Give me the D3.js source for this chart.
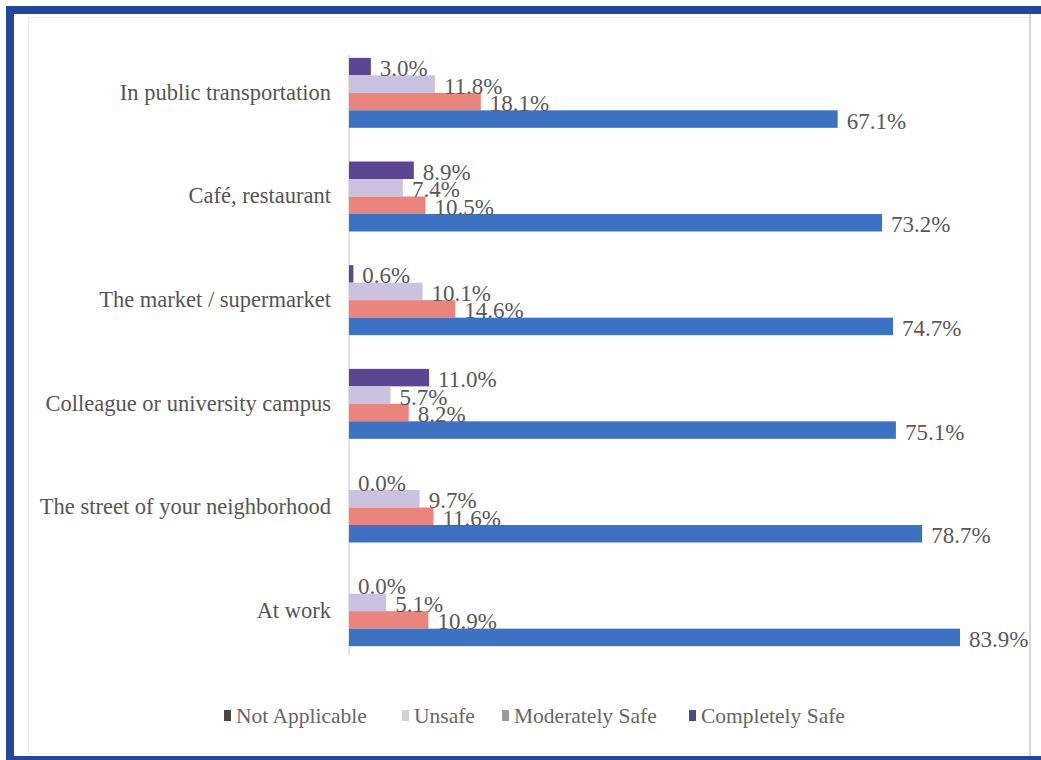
<!DOCTYPE html>
<html>
<head>
<meta charset="utf-8">
<script src="https://cdn.jsdelivr.net/npm/d3@7"></script>
<style>
  html, body { margin: 0; padding: 0; background: #ffffff; }
  svg { display: block; }
  text { font-family: "Liberation Serif", "DejaVu Serif", serif; }
</style>
</head>
<body>
<svg id="chart" width="1041" height="760"></svg>
<script>
// Places asked about, top to bottom
const places = [
  "In public transportation",
  "Café, restaurant",
  "The market / supermarket",
  "Colleague or university campus",
  "The street of your neighborhood",
  "At work"
];

// Share of respondents (%) per perceived-safety answer
const notApplicable  = [3.0, 8.9, 0.6, 11.0, 0.0, 0.0];
const unsafe         = [11.8, 7.4, 10.1, 5.7, 9.7, 5.1];
const moderatelySafe = [18.1, 10.5, 14.6, 8.2, 11.6, 10.9];
const completelySafe = [67.1, 73.2, 74.7, 75.1, 78.7, 83.9];

const seriesNames = ["Not Applicable", "Unsafe", "Moderately Safe", "Completely Safe"];
const seriesValues = [notApplicable, unsafe, moderatelySafe, completelySafe];

const barColors    = ["#5d4591", "#cbc2e2", "#e9857c", "#3c72c1"];
const legendColors = ["#474747", "#d2d2d6", "#9a9a9c", "#4b4a86"];

const svg = d3.select("#chart");

// Frame: blue band on top, left and bottom
svg.append("rect").attr("x", 0).attr("y", 0).attr("width", 1041).attr("height", 760).attr("fill", "#ffffff");
svg.append("rect").attr("x", 6).attr("y", 6).attr("width", 1035).attr("height", 8).attr("fill", "#22489c");
svg.append("rect").attr("x", 6).attr("y", 6).attr("width", 8).attr("height", 754).attr("fill", "#22489c");
svg.append("rect").attr("x", 6).attr("y", 756).attr("width", 1035).attr("height", 4).attr("fill", "#22489c");
// faint inner panel outline
svg.append("rect").attr("x", 28.5).attr("y", 17.5).attr("width", 1001).attr("height", 736)
  .attr("fill", "none").attr("stroke", "#ececec").attr("stroke-width", 1);
svg.append("line").attr("x1", 1030).attr("x2", 1030).attr("y1", 14).attr("y2", 756)
  .attr("stroke", "#d8d8d8").attr("stroke-width", 2);

const x0 = 349;
const x = d3.scaleLinear().domain([0, 83.9]).range([x0, 960]);

const y = d3.scaleBand()
  .domain(places)
  .range([41, 663])
  .paddingInner(0.325)
  .paddingOuter(0.1625);

const ySeries = d3.scaleBand()
  .domain(seriesNames)
  .range([0, y.bandwidth()])
  .padding(0);

// vertical category axis line
svg.append("line")
  .attr("x1", x0).attr("x2", x0)
  .attr("y1", 55).attr("y2", 655)
  .attr("stroke", "#d9d9d9").attr("stroke-width", 1.5);

// category labels
const yAxis = d3.axisLeft(y).tickSize(0).tickPadding(18);
const yAxisG = svg.append("g").attr("transform", `translate(${x0},0)`).call(yAxis);
yAxisG.select(".domain").remove();
yAxisG.selectAll("text")
  .attr("font-size", 22.5)
  .attr("dy", "0.3em")
  .attr("fill", "#555555")
  .style("font-family", '"Liberation Serif", serif');

// bars and value labels
const rows = [];
places.forEach((p, i) => {
  seriesNames.forEach((s, j) => {
    rows.push({ place: p, series: s, value: seriesValues[j][i], color: barColors[j] });
  });
});

const g = svg.append("g");
g.selectAll("rect.bar")
  .data(rows)
  .join("rect")
  .attr("class", "bar")
  .attr("x", x0)
  .attr("y", d => y(d.place) + ySeries(d.series))
  .attr("width", d => x(d.value) - x0)
  .attr("height", ySeries.bandwidth())
  .attr("fill", d => d.color);

g.selectAll("text.val")
  .data(rows)
  .join("text")
  .attr("class", "val")
  .attr("x", d => x(d.value) + 9)
  .attr("y", d => y(d.place) + ySeries(d.series) + ySeries.bandwidth() / 2 + 2)
  .attr("dominant-baseline", "central")
  .attr("font-size", 23)
  .attr("fill", "#595959")
  .text(d => d.value.toFixed(1) + "%");

// legend
const legendX = [224, 402, 502, 689];
const legend = svg.append("g");
seriesNames.forEach((s, j) => {
  legend.append("rect")
    .attr("x", legendX[j]).attr("y", 710)
    .attr("width", 7).attr("height", 11)
    .attr("fill", legendColors[j]);
  legend.append("text")
    .attr("x", legendX[j] + 12).attr("y", 716)
    .attr("dominant-baseline", "central")
    .attr("font-size", 21.5)
    .attr("fill", "#666666")
    .text(s);
});
</script>
</body>
</html>
